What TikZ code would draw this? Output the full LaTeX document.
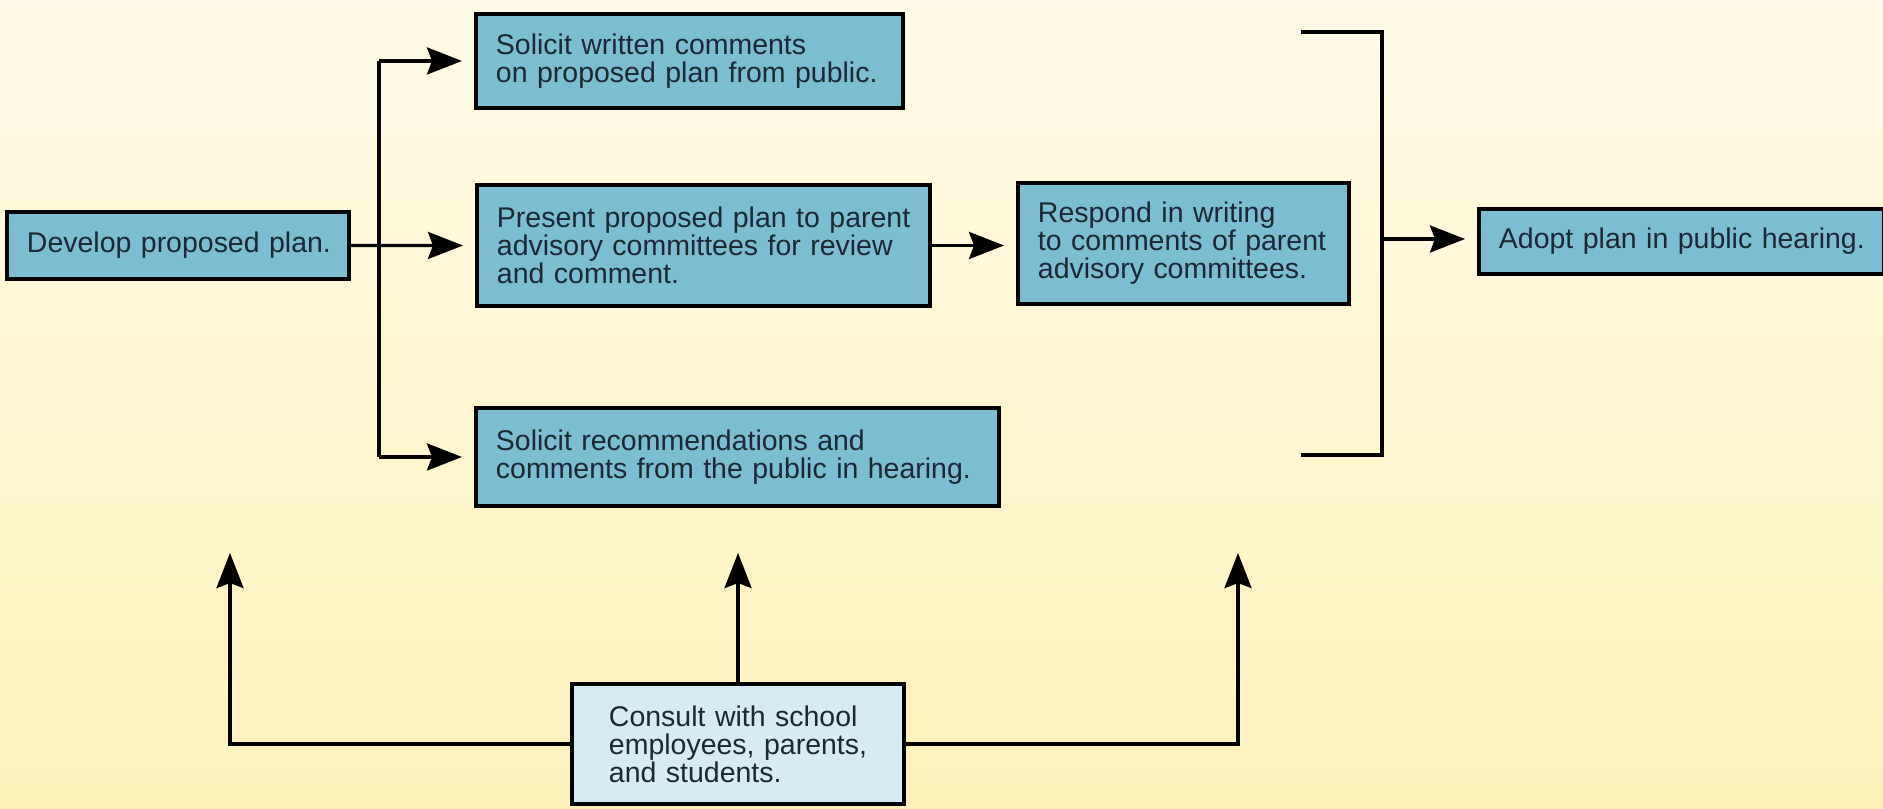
\documentclass[tikz,border=0pt]{standalone}
\usepackage{fontspec}
\setmainfont{Liberation Sans}
\usepackage{tikz}
\usetikzlibrary{arrows.meta,positioning,calc}
\usepackage{xcolor}
\definecolor{bgtop}{RGB}{255,251,232}
\definecolor{bgbot}{RGB}{254,242,186}
\definecolor{boxblue}{RGB}{125,189,210}
\definecolor{paleblue}{RGB}{214,235,243}
\definecolor{inkdark}{RGB}{28,40,52}

\begin{document}
\begin{tikzpicture}[x=0.01cm, y=-0.01cm, >={Stealth[length=0.35cm, width=0.27cm, inset=0.05cm]},
  box/.style={draw, line width=1.1pt, fill=boxblue, anchor=north west,
    inner xsep=0.2cm, inner ysep=0pt, text=inkdark, font=\fontsize{8.1}{8.0}\selectfont,
    execute at begin node={\rightskip=0pt minus 1cm\hyphenpenalty=10000}},
  link/.style={line width=0.95pt},
  flow/.style={link, ->},
  flowgap/.style={flow, shorten >=0.12cm}]
  \shade [top color=bgtop, bottom color=bgbot] (0,0) rectangle (1883,808);
  \useasboundingbox (0,0) rectangle (1883,808);

  % boxes
  \node [box, text width=3.02cm, minimum height=0.67cm] (dev) at (5,210) {Develop proposed plan.};
  \node [box, text width=3.87cm, minimum height=0.94cm] (writ) at (474,12)
    {Solicit written comments\\on proposed plan from public.};
  \node [box, text width=4.13cm, minimum height=1.21cm] (pres) at (475,183)
    {Present proposed plan to parent\\advisory committees for review\\and comment.};
  \node [box, text width=4.83cm, minimum height=0.98cm] (rec) at (474,406)
    {Solicit recommendations and\\comments from the public in hearing.};
  \node [box, text width=2.91cm, minimum height=1.21cm] (resp) at (1016,181)
    {Respond in writing\\to comments of parent\\advisory committees.};
  \node [box, text width=3.65cm, minimum height=0.65cm] (adopt) at (1477,207)
    {Adopt plan in public hearing.};
  \node [box, fill=paleblue, inner xsep=0.37cm, text width=2.58cm, minimum height=1.2cm] (cons) at (570,682)
    {Consult with school\\employees, parents,\\and students.};

  % split to the three reviews
  \coordinate (split) at (379,244);
  \draw [link] (writ.west -| split) -- (rec.west -| split);
  \draw [flowgap] (dev) -- (pres);
  \draw [flowgap] (writ.west -| split) -- (writ.west);
  \draw [flowgap] (rec.west -| split) -- (rec.west);
  \draw [flowgap] (pres.east) -- (pres.east -| resp.west);

  % bracket into the hearing
  \coordinate (bt) at (1301,32);
  \coordinate (bb) at (1301,455);
  \coordinate (bx) at (1382,239);
  \draw [link] (bt) -| (bx) |- (bb);
  \draw [flowgap] (bx) -- (bx -| adopt.west);

  % consultation feeds every stage
  \coordinate (upL) at (230,553);
  \coordinate (upR) at (1238,553);
  \draw [flow] (cons.west) -| (upL);
  \draw [flow] (cons.east) -| (upR);
  \draw [flow] (cons.north) -- (cons.north |- upL);
\end{tikzpicture}
\end{document}
